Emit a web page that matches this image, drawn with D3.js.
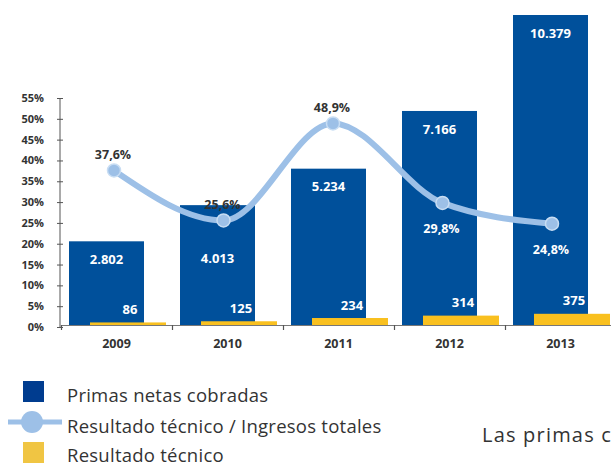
<!DOCTYPE html>
<html>
<head>
<meta charset="utf-8">
<script src="https://cdn.jsdelivr.net/npm/d3@7"></script>
<style>
  body { margin: 0; background: #fff; }
  svg { display: block; font-family: "Open Sans", "Noto Sans", sans-serif; }
</style>
</head>
<body>
<div class="chart"></div>
<script>
const years = ["2009", "2010", "2011", "2012", "2013"];
const primas = [2802, 4013, 5234, 7166, 10379];
const resultado = [86, 125, 234, 314, 375];
const ratio = [37.6, 25.6, 48.9, 29.8, 24.8];
const pctTicks = [0, 5, 10, 15, 20, 25, 30, 35, 40, 45, 50, 55];
const legendText = ["Primas netas cobradas", "Resultado técnico / Ingresos totales", "Resultado técnico"];

const W = 611, H = 466;
const fmtNum = d3.formatLocale({decimal: ",", thousands: ".", grouping: [3], currency: ["", ""]}).format(",d");
const fmtPct = d => d.toFixed(1).replace(".", ",");

const svg = d3.select(".chart").append("svg")
    .attr("width", W)
    .attr("height", H);

const x = d3.scaleBand()
    .domain(years)
    .range([61, 616]);

const xp = d3.scalePoint()
    .domain(years)
    .range([114, 552]);

const yVal = d3.scaleLinear()
    .domain([0, 10379])
    .range([325, 15]);

const yPct = d3.scaleLinear()
    .domain([0, 55])
    .range([327, 98]);

// blue bars
svg.append("g").selectAll("rect")
    .data(primas)
    .join("rect")
    .attr("x", (d, i) => x(years[i]) + 8)
    .attr("width", 75)
    .attr("y", d => yVal(d))
    .attr("height", d => yVal(0) - yVal(d))
    .attr("fill", "#00509b");

// label sits 18px under the bar top, unless the line point is right there
function barLabelY(d, i) {
    const top = yVal(d);
    const p = yPct(ratio[i]);
    if (p > top && p - top < 40) return p + 38;
    return top + 18;
}

svg.append("g").selectAll("text")
    .data(primas)
    .join("text")
    .attr("x", (d, i) => x(years[i]) + 45.5)
    .attr("y", barLabelY)
    .attr("dy", "0.35em")
    .attr("text-anchor", "middle")
    .attr("font-size", 13)
    .attr("font-weight", "bold")
    .attr("fill", "#fff")
    .text(d => fmtNum(d));

// yellow bars
svg.append("g").selectAll("rect")
    .data(resultado)
    .join("rect")
    .attr("x", (d, i) => x(years[i]) + 29)
    .attr("width", 76)
    .attr("y", d => yVal(d))
    .attr("height", d => yVal(0) - yVal(d))
    .attr("fill", "#f9c01f");

svg.append("g").selectAll("text")
    .data(resultado)
    .join("text")
    .attr("x", (d, i) => x(years[i]) + 69)
    .attr("y", d => yVal(d) - 13)
    .attr("dy", "0.35em")
    .attr("text-anchor", "middle")
    .attr("font-size", 13)
    .attr("font-weight", "bold")
    .attr("fill", "#fff")
    .text(d => d);

// x axis
const xAxis = d3.axisBottom(x).tickSize(0).tickPadding(14);
svg.append("g")
    .attr("transform", "translate(0,325)")
    .call(xAxis)
    .call(g => g.select(".domain").attr("stroke", "#777").attr("stroke-width", 1.2))
    .call(g => g.selectAll(".tick text")
        .attr("font-size", 12.5)
        .attr("font-weight", "bold")
        .attr("fill", "#333")
        .attr("font-family", "'Open Sans', sans-serif"));

svg.append("g").selectAll("line")
    .data(years)
    .join("line")
    .attr("x1", d => x(d) + 0.5)
    .attr("x2", d => x(d) + 0.5)
    .attr("y1", 325)
    .attr("y2", 330)
    .attr("stroke", "#555")
    .attr("stroke-width", 1.2);

// y axis (percent)
const yAxis = d3.axisLeft(yPct)
    .tickValues(pctTicks)
    .tickSize(6)
    .tickPadding(10)
    .tickFormat(d => d + "%");

svg.append("g")
    .attr("transform", "translate(60,0)")
    .call(yAxis)
    .call(g => g.select(".domain").attr("d", `M0,${yPct(55)}V${yPct(0)}`).attr("stroke", "#555"))
    .call(g => g.selectAll(".tick line").attr("x1", 3).attr("x2", -3).attr("stroke", "#555"))
    .call(g => g.selectAll(".tick text")
        .attr("font-size", 11)
        .attr("font-weight", "bold")
        .attr("fill", "#333")
        .attr("font-family", "'Open Sans', sans-serif"));

// ratio line
const line = d3.line()
    .curve(d3.curveMonotoneX)
    .x((d, i) => xp(years[i]))
    .y(d => yPct(d));

svg.append("path")
    .datum(ratio)
    .attr("fill", "none")
    .attr("stroke", "#9dc0e7")
    .attr("stroke-width", 6)
    .attr("stroke-linecap", "round")
    .attr("d", line);

svg.append("g").selectAll("circle")
    .data(ratio)
    .join("circle")
    .attr("cx", (d, i) => xp(years[i]))
    .attr("cy", d => yPct(d))
    .attr("r", 6.5)
    .attr("fill", "#9dc0e7")
    .attr("stroke", "#c8ddf3")
    .attr("stroke-width", 1.5);

svg.append("g").selectAll("text")
    .data(ratio)
    .join("text")
    .attr("x", (d, i) => xp(years[i]) - 1)
    .attr("y", (d, i) => i < 3 ? yPct(d) - 16 : yPct(d) + 26)
    .attr("dy", "0.35em")
    .attr("text-anchor", "middle")
    .attr("font-size", 12.5)
    .attr("font-weight", "bold")
    .attr("fill", (d, i) => i < 3 ? "#333" : "#fff")
    .text(d => fmtPct(d) + "%");

// legend
const legend = svg.append("g");
legend.append("rect")
    .attr("x", 23).attr("y", 381).attr("width", 21).attr("height", 21)
    .attr("fill", "#003c8f");
legend.append("line")
    .attr("x1", 8).attr("x2", 62).attr("y1", 422).attr("y2", 422)
    .attr("stroke", "#9dc0e7").attr("stroke-width", 5);
legend.append("circle")
    .attr("cx", 32).attr("cy", 422).attr("r", 11)
    .attr("fill", "#9dc0e7");
legend.append("rect")
    .attr("x", 23).attr("y", 442).attr("width", 21).attr("height", 21)
    .attr("fill", "#f0c543");

legend.selectAll("text")
    .data(legendText)
    .join("text")
    .attr("x", 67)
    .attr("y", (d, i) => [402, 433, 462][i])
    .attr("font-size", 18.5)
    .attr("letter-spacing", 0.25)
    .attr("fill", "#333")
    .text(d => d);

svg.append("text")
    .attr("x", 482)
    .attr("y", 442)
    .attr("font-size", 20)
    .attr("letter-spacing", 1.2)
    .attr("fill", "#333")
    .text("Las primas c");
</script>
</body>
</html>
